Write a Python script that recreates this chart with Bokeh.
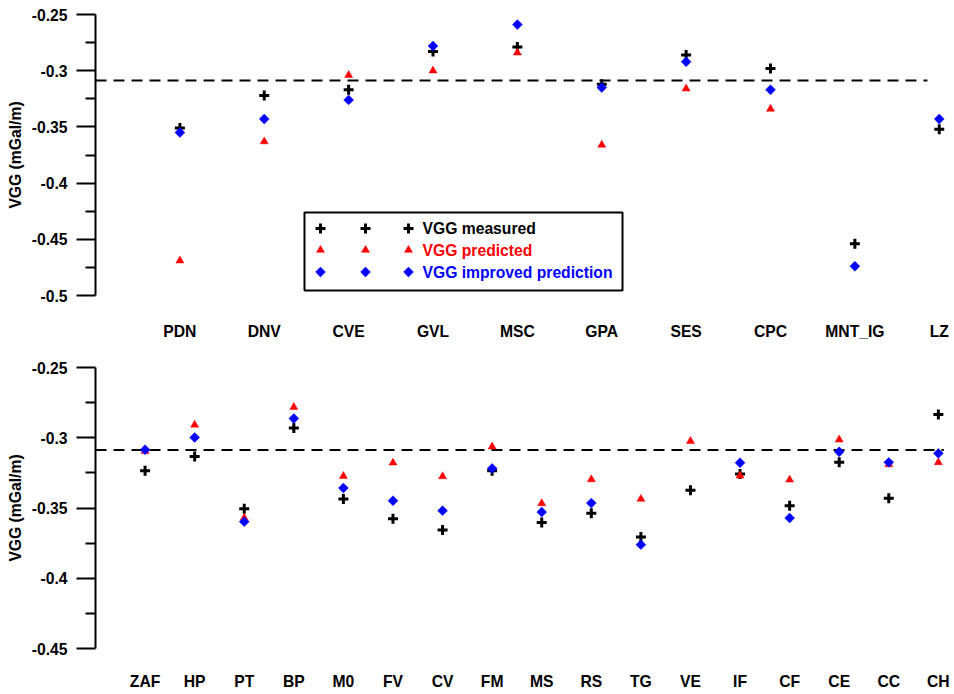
from bokeh.plotting import figure
from bokeh.layouts import column
from bokeh.models import (Range1d, FixedTicker, PrintfTickFormatter, Label, BoxAnnotation)
from bokeh.embed import file_html
from bokeh.resources import INLINE

nan = float("nan")

# ---------------- data ----------------
top_sites = ["PDN", "DNV", "CVE", "GVL", "MSC", "GPA", "SES", "CPC", "MNT_IG", "LZ"]
top_measured = [-0.351, -0.322, -0.317, -0.283, -0.279, -0.312, -0.286, -0.298, -0.454, -0.352]
top_predicted = [-0.469, -0.363, -0.304, -0.300, -0.284, -0.366, -0.316, -0.334, nan, nan]
top_improved = [-0.355, -0.343, -0.326, -0.278, -0.259, -0.315, -0.292, -0.317, -0.474, -0.343]

bottom_sites = ["ZAF", "HP", "PT", "BP", "M0", "FV", "CV", "FM", "MS", "RS",
                "TG", "VE", "IF", "CF", "CE", "CC", "CH"]
bottom_measured = [-0.3235, -0.3133, -0.3505, -0.2931, -0.3436, -0.3576, -0.3656, -0.3235,
                   -0.3604, -0.3538, -0.3706, -0.3374, -0.3258, -0.3484, -0.3175, -0.3431, -0.2834]
bottom_predicted = [-0.3095, -0.2908, -0.3570, -0.2782, -0.3273, -0.3178, -0.3275, -0.3064,
                    -0.3467, -0.3297, -0.3436, -0.3024, -0.3270, -0.3299, -0.3014, -0.3190, -0.3175]
bottom_improved = [-0.3085, -0.2998, -0.3597, -0.2863, -0.3358, -0.3448, -0.3519, -0.3218,
                   -0.3529, -0.3465, -0.3761, nan, -0.3178, -0.3571, -0.3100, -0.3175, -0.3111]

reference_level = -0.3087
top_reference_extent = [-1.0, 8.86]
bottom_reference_extent = [-1.0, 16.11]

top_y_ticks = [-0.5, -0.45, -0.4, -0.35, -0.3, -0.25]
top_y_minor = [-0.475, -0.425, -0.375, -0.325, -0.275]
bottom_y_ticks = [-0.45, -0.4, -0.35, -0.3, -0.25]
bottom_y_minor = [-0.425, -0.375, -0.325, -0.275]

legend_labels = ["VGG measured", "VGG predicted", "VGG improved prediction"]
legend_colors = ["#000000", "#ff0000", "#0000ff"]

FONT = "Liberation Sans"
FS = "15.7px"
FRAME_W = 857
FRAME_H = 281

# marker styles (shared by plot and legend)
STYLES = [
    dict(marker="cross", size=10, line_color="black", line_width=3),
    dict(marker="triangle", size=8, fill_color="#ff0000", line_color="#ff0000", line_width=0.5),
    dict(marker="square", size=7, angle=45, angle_units="deg",
         fill_color="#0000ff", line_color="#0000ff", line_width=0.5),
]


def make_panel(sites, series, y_lo, y_hi, ticks, minor, x_end, ref_extent,
               border_top, border_bottom, label_standoff):
    xs = list(range(len(sites)))
    p = figure(frame_width=FRAME_W, frame_height=FRAME_H,
               x_range=Range1d(-1, x_end), y_range=Range1d(y_lo, y_hi),
               output_backend="svg", toolbar_location=None,
               min_border_left=95, min_border_right=0,
               min_border_top=border_top, min_border_bottom=border_bottom,
               background_fill_color="white", border_fill_color="white",
               outline_line_color=None)
    p.xgrid.visible = False
    p.ygrid.visible = False

    xa = p.xaxis[0]
    xa.ticker = FixedTicker(ticks=xs, minor_ticks=[])
    xa.major_label_overrides = {i: s for i, s in enumerate(sites)}
    xa.axis_line_color = None
    xa.major_tick_line_color = None
    xa.minor_tick_line_color = None
    xa.major_tick_out = 0
    xa.major_tick_in = 0
    xa.minor_tick_out = 0
    xa.major_label_standoff = label_standoff
    xa.major_label_text_font = FONT
    xa.major_label_text_font_style = "bold"
    xa.major_label_text_font_size = FS
    xa.major_label_text_color = "black"

    ya = p.yaxis[0]
    ya.ticker = FixedTicker(ticks=ticks, minor_ticks=minor)
    ya.formatter = PrintfTickFormatter(format="%.2g")
    ya.axis_line_width = 2
    ya.axis_line_color = "black"
    ya.major_tick_line_width = 2
    ya.minor_tick_line_width = 2
    ya.major_tick_line_color = "black"
    ya.minor_tick_line_color = "black"
    ya.major_tick_out = 19
    ya.major_tick_in = 0
    ya.minor_tick_out = 10
    ya.minor_tick_in = 0
    ya.major_label_standoff = 9
    ya.major_label_text_font = FONT
    ya.major_label_text_font_style = "bold"
    ya.major_label_text_font_size = FS
    ya.major_label_text_color = "black"
    ya.axis_label = "VGG (mGal/m)"
    ya.axis_label_text_font = FONT
    ya.axis_label_text_font_style = "bold"
    ya.axis_label_text_font_size = FS
    ya.axis_label_text_color = "black"
    ya.axis_label_standoff = 5

    p.line(x=ref_extent, y=[reference_level, reference_level], line_color="black",
           line_width=2, line_dash="11 7")

    for vals, st in zip(series, STYLES):
        p.scatter(x=xs, y=vals, **st)
    return p


top = make_panel(top_sites, [top_measured, top_predicted, top_improved],
                 -0.5, -0.25, top_y_ticks, top_y_minor, 9.157,
                 top_reference_extent, 14, 49, 27)
bottom = make_panel(bottom_sites, [bottom_measured, bottom_predicted, bottom_improved],
                    -0.45, -0.25, bottom_y_ticks, bottom_y_minor, 16.285,
                    bottom_reference_extent, 23, 46, 24)

# ---------------- legend (top panel), laid out in frame pixels ----------------
LEG_BOX = dict(left=209, right=527, bottom=5, top=83)   # px from frame left / bottom
LEG_MARK_X = [225, 270, 313]                           # px from frame left
LEG_TEXT_X = 327
LEG_ROW_Y = [67, 45.5, 23.5]                            # px from frame bottom

box = BoxAnnotation(left_units="screen", right_units="screen",
                    bottom_units="screen", top_units="screen",
                    fill_color="white", fill_alpha=1.0,
                    line_color="black", line_width=2, line_alpha=1.0, **LEG_BOX)
top.add_layout(box)

x0, x1 = top.x_range.start, top.x_range.end
y0, y1 = top.y_range.start, top.y_range.end


def px_to_data_x(px):
    return x0 + px / FRAME_W * (x1 - x0)


def px_to_data_y(py):
    return y0 + py / FRAME_H * (y1 - y0)


for row_y, st, text, color in zip(LEG_ROW_Y, STYLES, legend_labels, legend_colors):
    top.scatter(x=[px_to_data_x(v) for v in LEG_MARK_X],
                y=[px_to_data_y(row_y)] * len(LEG_MARK_X), level="overlay", **st)
    top.add_layout(Label(x=LEG_TEXT_X, y=row_y, x_units="screen", y_units="screen",
                         text=text, text_font=FONT, text_font_style="bold",
                         text_font_size=FS, text_color=color,
                         text_align="left", text_baseline="middle"))

layout = column(top, bottom, spacing=0)

with open("out.html", "w") as f:
    f.write(file_html(layout, INLINE))
